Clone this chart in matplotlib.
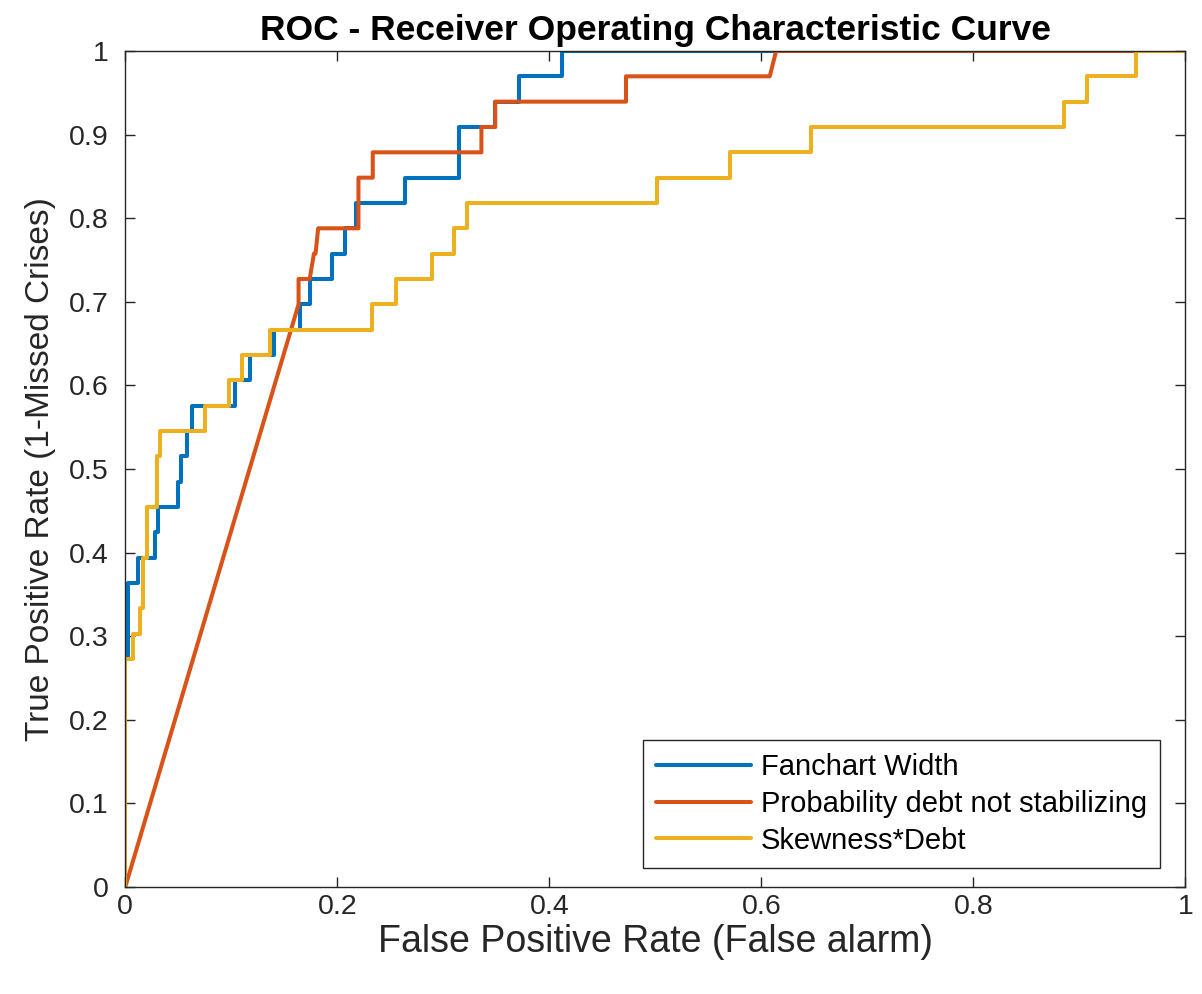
import matplotlib
matplotlib.use("Agg")
import matplotlib.pyplot as plt

plt.rcParams['font.family'] = ['Liberation Sans', 'DejaVu Sans']

# Fanchart Width
fan_x = [0.0, 0.0, 0.003, 0.003, 0.0123, 0.0123, 0.028, 0.028, 0.031, 0.031, 0.050, 0.050,
         0.053, 0.053, 0.058, 0.058, 0.0626, 0.0626, 0.1035, 0.1035, 0.1176, 0.1176, 0.140, 0.140,
         0.165, 0.165, 0.174, 0.174, 0.195, 0.195, 0.207, 0.207, 0.218, 0.218, 0.264, 0.264,
         0.315, 0.315, 0.349, 0.349, 0.371, 0.371, 0.412, 0.412, 1.0]
fan_y = [0.0, 0.2727, 0.2727, 0.3636, 0.3636, 0.3939, 0.3939, 0.4242, 0.4242, 0.4545, 0.4545, 0.4848,
         0.4848, 0.5152, 0.5152, 0.5455, 0.5455, 0.5758, 0.5758, 0.6061, 0.6061, 0.6364, 0.6364, 0.6667,
         0.6667, 0.6970, 0.6970, 0.7273, 0.7273, 0.7576, 0.7576, 0.7879, 0.7879, 0.8182, 0.8182, 0.8485,
         0.8485, 0.9091, 0.9091, 0.9394, 0.9394, 0.9697, 0.9697, 1.0, 1.0]

# Probability debt not stabilizing
prob_x = [0.0, 0.1635, 0.1635, 0.174, 0.178, 0.1795, 0.182, 0.220, 0.220, 0.2335, 0.2335,
          0.336, 0.336, 0.349, 0.349, 0.4724, 0.4724, 0.608, 0.614, 1.0]
prob_y = [0.0, 0.6970, 0.7273, 0.7273, 0.7576, 0.7576, 0.7879, 0.7879, 0.8485, 0.8485, 0.8788,
          0.8788, 0.9091, 0.9091, 0.9394, 0.9394, 0.9697, 0.9697, 1.0, 1.0]

# Skewness*Debt
skew_x = [0.0, 0.0, 0.0077, 0.0077, 0.0135, 0.0135, 0.017, 0.017, 0.0205, 0.0205, 0.0296, 0.0296,
          0.0327, 0.0327, 0.0752, 0.0752, 0.098, 0.098, 0.110, 0.110, 0.1365, 0.1365, 0.2324, 0.2324,
          0.255, 0.255, 0.289, 0.289, 0.310, 0.310, 0.3227, 0.3227, 0.5013, 0.5013, 0.5705, 0.5705,
          0.647, 0.647, 0.8856, 0.8856, 0.907, 0.907, 0.9535, 0.9535, 1.0]
skew_y = [0.0, 0.2727, 0.2727, 0.3030, 0.3030, 0.3333, 0.3333, 0.3939, 0.3939, 0.4545, 0.4545, 0.5152,
          0.5152, 0.5455, 0.5455, 0.5758, 0.5758, 0.6061, 0.6061, 0.6364, 0.6364, 0.6667, 0.6667, 0.6970,
          0.6970, 0.7273, 0.7273, 0.7576, 0.7576, 0.7879, 0.7879, 0.8182, 0.8182, 0.8485, 0.8485, 0.8788,
          0.8788, 0.9091, 0.9091, 0.9394, 0.9394, 0.9697, 0.9697, 1.0, 1.0]

labels = ["Fanchart Width", "Probability debt not stabilizing", "Skewness*Debt"]
colors = ["#0072BD", "#D95319", "#EDB120"]
xticks = [0, 0.2, 0.4, 0.6, 0.8, 1]
xticklabels = ["0", "0.2", "0.4", "0.6", "0.8", "1"]
yticks = [0, 0.1, 0.2, 0.3, 0.4, 0.5, 0.6, 0.7, 0.8, 0.9, 1]
yticklabels = ["0", "0.1", "0.2", "0.3", "0.4", "0.5", "0.6", "0.7", "0.8", "0.9", "1"]

fig = plt.figure(figsize=(12.02, 9.94), dpi=100)
ax = fig.add_axes([0.1042, 0.1076, 0.8819, 0.8411])

for xs, ys, lab, c in zip([fan_x, prob_x, skew_x], [fan_y, prob_y, skew_y], labels, colors):
    ax.plot(xs, ys, color=c, lw=2.9, label=lab, solid_joinstyle='round', solid_capstyle='round')

ax.set_xlim(0, 1)
ax.set_ylim(0, 1)
ax.set_xticks(xticks)
ax.set_xticklabels(xticklabels)
ax.set_yticks(yticks)
ax.set_yticklabels(yticklabels)
ax.tick_params(direction='in', length=7, width=1, colors='#262626', labelsize=20.5,
               top=True, right=True)
ax.tick_params(axis='x', pad=5)
ax.tick_params(axis='y', pad=12)
for sp in ax.spines.values():
    sp.set_color('#262626')
    sp.set_linewidth(1.0)

ax.set_xlabel("False Positive Rate (False alarm)", fontsize=27, color='#262626', labelpad=3)
ax.set_ylabel("True Positive Rate (1-Missed Crises)", fontsize=24, color='#262626', labelpad=9)
ax.set_title("ROC - Receiver Operating Characteristic Curve", fontsize=25.5, fontweight='bold',
             color='black', pad=8)

leg = ax.legend(loc='lower right', bbox_to_anchor=(0.976, 0.023), borderaxespad=0,
                fontsize=21, handlelength=3.25, fancybox=False, framealpha=1,
                edgecolor='#262626', labelspacing=0.3, borderpad=0.45, handletextpad=0.34)
leg.get_frame().set_linewidth(1.0)

fig.savefig("out.png", dpi=100)
